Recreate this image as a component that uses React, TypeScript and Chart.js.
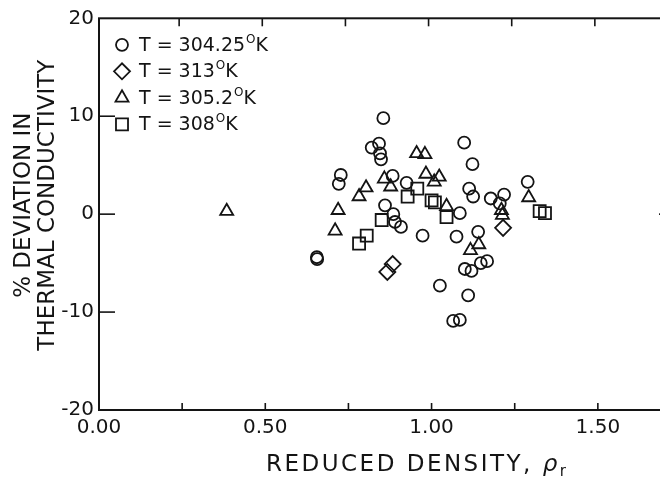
import React, { useEffect, useRef } from 'react';
import { Chart, registerables } from 'chart.js';
import { drawPoint } from 'chart.js/helpers';

Chart.register(...registerables);

// T = 304.25 K (circles)
const circleX = [0.855, 0.842, 0.82, 0.845, 0.848, 1.098, 1.123, 0.727, 0.721, 0.883, 0.925, 1.289, 1.113, 1.125, 1.178, 1.218, 1.205, 0.86, 0.885, 0.89, 0.908, 1.085, 0.973, 1.075, 1.14, 1.167, 1.148, 1.1, 1.12, 0.656, 0.655, 1.025, 1.11, 1.065, 1.085];
const circleY = [9.8, 7.2, 6.8, 6.2, 5.6, 7.3, 5.1, 4.0, 3.1, 3.9, 3.2, 3.3, 2.6, 1.8, 1.6, 2.0, 1.1, 0.9, 0.0, -0.8, -1.3, 0.1, -2.2, -2.3, -1.8, -4.8, -5.0, -5.6, -5.8, -4.6, -4.4, -7.3, -8.3, -10.9, -10.8];
// T = 313 K (diamonds)
const diamondX = [0.883, 0.867, 1.215];
const diamondY = [-5.1, -5.9, -1.4];
// T = 305.2 K (triangles)
const triangleX = [0.384, 0.955, 0.98, 0.983, 1.023, 1.008, 0.858, 0.877, 0.803, 0.782, 0.719, 0.71, 1.045, 1.21, 1.213, 1.292, 1.117, 1.142];
const triangleY = [0.3, 6.2, 6.1, 4.1, 3.8, 3.3, 3.6, 2.8, 2.7, 1.8, 0.4, -1.7, 0.8, 0.4, -0.1, 1.7, -3.7, -3.1];
// T = 308 K (squares)
const squareX = [0.957, 0.928, 1.0, 1.01, 1.045, 0.85, 0.805, 0.782, 1.325, 1.341];
const squareY = [2.6, 1.8, 1.4, 1.2, -0.3, -0.6, -2.2, -3.0, 0.3, 0.1];

const seriesLabels = ['T = 304.25', 'T = 313', 'T = 305.2', 'T = 308'];
const xMin = 0;
const xMax = 1.75;
const xStep = 0.25;
const xLabelEvery = 0.5;
const yMin = -20;
const yMax = 20;
const yStep = 10;
const yTitle = ['% DEVIATION IN', 'THERMAL CONDUCTIVITY'];
const xTitleMain = 'REDUCED DENSITY, ';

const FONT = '"DejaVu Sans", "Liberation Sans", sans-serif';
const INK = '#141414';

const pts = (xs: number[], ys: number[]) => xs.map((x, i) => ({ x, y: ys[i] }));

const styles = [
  { pointStyle: 'circle', radius: 6 },
  { pointStyle: 'rectRot', radius: 8 },
  { pointStyle: 'triangle', radius: 7.5 },
  { pointStyle: 'rect', radius: 8.5 },
];

export default function App() {
  const ref = useRef<HTMLCanvasElement>(null);

  useEffect(() => {
    const canvas = ref.current;
    if (!canvas) return;
    const datasets = [
      pts(circleX, circleY),
      pts(diamondX, diamondY),
      pts(triangleX, triangleY),
      pts(squareX, squareY),
    ].map((data, i) => ({
      label: seriesLabels[i],
      data,
      pointStyle: styles[i].pointStyle as any,
      pointRadius: styles[i].radius,
      pointBorderWidth: 1.8,
      pointBorderColor: INK,
      pointBackgroundColor: 'rgba(0,0,0,0)',
      showLine: false,
    }));

    const framePlugin = {
      id: 'frame',
      afterDraw(chart: any) {
        const { ctx, chartArea: a, scales } = chart;
        const x = scales.x;
        const y = scales.y;
        const line = (x1: number, y1: number, x2: number, y2: number) => {
          ctx.beginPath();
          ctx.moveTo(x1, y1);
          ctx.lineTo(x2, y2);
          ctx.stroke();
        };
        ctx.save();
        ctx.strokeStyle = INK;
        ctx.lineWidth = 2;
        ctx.strokeRect(a.left, a.top, a.right - a.left, a.bottom - a.top);
        ctx.lineWidth = 1.6;
        x.ticks.forEach((t: any) => {
          const px = x.getPixelForValue(t.value);
          if (px <= a.left + 1 || px >= a.right - 1) return;
          line(px, a.bottom, px, a.bottom - 7);
          line(px - 3, a.top, px - 3, a.top + 8);
        });
        y.ticks.forEach((t: any) => {
          const py = y.getPixelForValue(t.value);
          if (py <= a.top + 1 || py >= a.bottom - 1) return;
          line(a.left, py, a.left + 16, py);
          if (t.value === 0) line(a.right, py, a.right - 22, py);
        });

        // legend
        ctx.fillStyle = INK;
        ctx.textBaseline = 'middle';
        ctx.textAlign = 'left';
        seriesLabels.forEach((lab, i) => {
          const cy = a.top + 26.5 + i * 26.5;
          const cx = a.left + 23;
          ctx.save();
          ctx.fillStyle = 'rgba(0,0,0,0)';
          ctx.strokeStyle = INK;
          ctx.lineWidth = 1.8;
          drawPoint(ctx, { pointStyle: styles[i].pointStyle as any, radius: styles[i].radius, rotation: 0, borderWidth: 1.8 }, cx, cy);
          ctx.restore();
          const tx = a.left + 40;
          ctx.font = `19px ${FONT}`;
          ctx.fillText(lab, tx, cy + 1);
          const w = ctx.measureText(lab).width;
          ctx.font = `12px ${FONT}`;
          ctx.fillText('O', tx + w + 1, cy - 5);
          const wo = ctx.measureText('O').width;
          ctx.font = `19px ${FONT}`;
          ctx.fillText('K', tx + w + 1 + wo, cy + 1);
        });

        // y-axis title (two rotated lines)
        ctx.font = `23px ${FONT}`;
        ctx.textAlign = 'center';
        ctx.textBaseline = 'middle';
        const yc = (a.top + a.bottom) / 2 - 9;
        yTitle.forEach((txt, i) => {
          ctx.save();
          ctx.translate(16 + i * 24, yc);
          ctx.rotate(-Math.PI / 2);
          ctx.fillText(txt, 0, 0);
          ctx.restore();
        });

        // x-axis title with italic rho and subscript r, widely spaced lettering
        ctx.textAlign = 'left';
        const spacing = 2.5;
        const parts: { ch: string; font: string; dy: number }[] = [];
        for (const ch of xTitleMain) parts.push({ ch, font: `23px ${FONT}`, dy: 0 });
        parts.push({ ch: 'ρ', font: `italic 23px ${FONT}`, dy: 0 });
        parts.push({ ch: 'r', font: `15px ${FONT}`, dy: 7 });
        let total = 0;
        const widths = parts.map((p) => {
          ctx.font = p.font;
          return ctx.measureText(p.ch).width;
        });
        widths.forEach((w, i) => {
          total += w + (i < widths.length - 1 ? spacing : 0);
        });
        const cxT = (a.left + a.right) / 2 + 26;
        const cyT = a.bottom + 55;
        let sx = cxT - total / 2;
        parts.forEach((p, i) => {
          ctx.font = p.font;
          ctx.fillText(p.ch, sx, cyT + p.dy);
          sx += widths[i] + spacing;
        });
        ctx.restore();
      },
    };

    const chart = new Chart(canvas, {
      type: 'scatter',
      data: { datasets },
      options: {
        animation: false,
        responsive: false,
        maintainAspectRatio: false,
        layout: { padding: { top: 7.5, right: 17, left: 0, bottom: 0 } },
        plugins: { legend: { display: false }, tooltip: { enabled: false } },
        scales: {
          x: {
            type: 'linear',
            min: xMin,
            max: xMax,
            grid: { display: false, drawTicks: false },
            border: { display: false },
            ticks: {
              stepSize: xStep,
              autoSkip: false,
              maxRotation: 0,
              padding: 6,
              color: INK,
              font: { family: FONT, size: 20 },
              callback: (v: any) => {
                const q = v / xLabelEvery;
                return Math.abs(q - Math.round(q)) < 1e-6 && v < xMax ? Number(v).toFixed(2) : '';
              },
            },
            afterFit: (s: any) => {
              s.height = 72;
              s.paddingLeft = 0;
              s.paddingRight = 0;
            },
          },
          y: {
            type: 'linear',
            min: yMin,
            max: yMax,
            grid: { display: false, drawTicks: false },
            border: { display: false },
            ticks: {
              stepSize: yStep,
              padding: 5,
              color: INK,
              font: { family: FONT, size: 20 },
            },
            afterFit: (s: any) => {
              s.width = 91;
              s.paddingTop = 0;
              s.paddingBottom = 0;
            },
          },
        },
      },
      plugins: [framePlugin],
    });
    return () => chart.destroy();
  }, []);

  return (
    <div style={{ width: 660, height: 474, overflow: 'hidden' }}>
      <canvas ref={ref} width={690} height={474} style={{ width: 690, height: 474, display: 'block' }} />
    </div>
  );
}
